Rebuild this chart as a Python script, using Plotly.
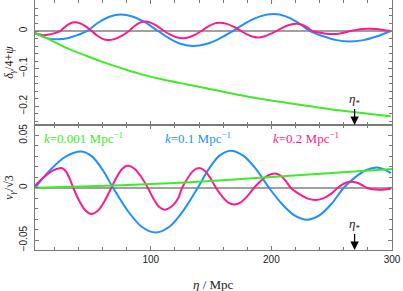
import plotly.graph_objects as go

# ---- data ----
# top panel: delta_gamma/4 + psi
top_eta_k001 = [4, 15, 30, 45, 58, 75, 91, 110, 130, 146, 170, 200, 230, 256, 280, 299]
top_val_k001 = [-0.005, -0.021, -0.045, -0.064, -0.080, -0.098, -0.114, -0.129, -0.142,
                -0.152, -0.168, -0.185, -0.199, -0.211, -0.220, -0.227]

top_eta_k01 = [4, 12, 17, 23, 31, 39, 47, 56.3, 65.7, 75, 85.3, 95.7, 106, 115.7, 125.3, 135,
               146, 157, 168, 179.3, 190.7, 202, 212, 222, 232, 243, 254, 265, 276.3, 287.7, 299]
top_val_k01 = [-0.006, -0.017, -0.021, -0.022, -0.019, -0.011, 0.000, 0.022, 0.038, 0.044,
               0.038, 0.022, 0.000, -0.020, -0.0346, -0.040, -0.0346, -0.020, 0.000, 0.0225,
               0.039, 0.045, 0.039, 0.0225, 0.000, -0.014, -0.0242, -0.028, -0.0242, -0.014,
               0.000]

top_eta_k02 = [4, 11, 15.7, 20.3, 25, 29, 33, 37, 41.7, 46.3, 51, 55.5, 60, 64.5, 70.3, 76.2,
               82, 86.3, 90.7, 95, 100.3, 105.7, 111, 116.2, 121.4, 126.6, 131.7, 136.9, 142,
               147, 152, 157, 163, 169, 175, 179.5, 184, 188.5, 193.7, 198.8, 204, 209.7,
               215.3, 221, 225.3, 229.7, 234, 239.7, 245.3, 251, 255.8, 260.7, 265.5, 270.5,
               275.5, 280.5, 286.7, 292.8, 299]
top_val_k02 = [-0.006, -0.011, -0.0095, -0.0055, 0.000, 0.0115, 0.020, 0.023, 0.020, 0.0115,
               0.000, -0.012, -0.0208, -0.024, -0.0208, -0.012, 0.000, 0.0125, 0.0217, 0.025,
               0.0217, 0.0125, 0.000, -0.0095, -0.0165, -0.019, -0.0165, -0.0095, 0.000,
               0.011, 0.019, 0.022, 0.019, 0.011, 0.000, -0.0085, -0.0147, -0.017, -0.0147,
               -0.0085, 0.000, 0.0095, 0.0165, 0.019, 0.0165, 0.0095, 0.000, -0.004, -0.007,
               -0.008, -0.007, -0.004, 0.000, 0.003, 0.0052, 0.006, 0.0052, 0.003, 0.000]

# bottom panel: v_gamma / sqrt(3)
bot_eta_k001 = [4, 50, 100, 150, 200, 250, 300]
bot_val_k001 = [0.000, 0.0015, 0.0035, 0.0065, 0.0102, 0.0140, 0.0180]

bot_eta_k01 = [4, 16.8, 29.7, 42.5, 51.2, 60, 68.7, 80.5, 92.2, 104, 115.7, 127.3, 139, 148,
               157, 166, 176.7, 187.3, 198, 208.6, 219.1, 229.7, 239.8, 249.9, 260, 269.1,
               278.3, 287.4, 293, 299]
bot_val_k01 = [0.000, 0.0173, 0.030, 0.0346, 0.030, 0.0173, 0.000, -0.0214, -0.037, -0.0428,
               -0.037, -0.0214, 0.000, 0.0178, 0.0307, 0.0355, 0.0307, 0.0178, 0.000, -0.0153,
               -0.0264, -0.0305, -0.0264, -0.0153, 0.000, 0.0097, 0.0167, 0.0193, 0.0178,
               0.014]

bot_eta_k02 = [4, 11.3, 18.7, 26, 29.2, 32.5, 35.7, 40.7, 45.8, 50.8, 56.3, 61.8, 67.3, 71.9,
               76.4, 81, 86.5, 92, 97.5, 102.2, 106.8, 111.5, 117, 122.5, 126, 130.7, 135.3,
               140, 144.7, 149.3, 154, 159, 164, 169, 174.6, 180.1, 185.7, 191.5, 197.2, 203,
               207.3, 211.7, 216, 222.9, 229.7, 236.6, 243, 249.4, 255, 258.7, 262.3, 266,
               270.3, 274.7, 279, 284, 289, 294, 299]
bot_val_k02 = [0.002, 0.010, 0.0163, 0.0188, 0.0163, 0.0094, 0.000, -0.0125, -0.0217, -0.025,
               -0.0217, -0.0125, 0.000, 0.0105, 0.0182, 0.021, 0.0182, 0.0105, 0.000, -0.0105,
               -0.0182, -0.021, -0.0182, -0.0105, 0.000, 0.0094, 0.0163, 0.0188, 0.0163,
               0.0094, 0.000, -0.008, -0.0139, -0.016, -0.0139, -0.008, 0.000, 0.0069, 0.0119,
               0.0137, 0.0119, 0.0069, 0.000, -0.0059, -0.0101, -0.0117, -0.0101, -0.0059,
               0.000, 0.0029, 0.005, 0.0058, 0.005, 0.0029, 0.000, -0.0015, -0.002, -0.0017,
               -0.001]

labels = ["<i>k</i>=0.001 Mpc<sup>−1</sup>", "<i>k</i>=0.1 Mpc<sup>−1</sup>",
          "<i>k</i>=0.2 Mpc<sup>−1</sup>"]
label_x = [10, 110, 200]
eta_star = 269

GREEN, BLUE, PINK = "#3cec28", "#1e90ff", "#ff1a8c"
FRAME = "#7a7a7a"
SERIF = "Liberation Serif, DejaVu Serif, serif"
SANS = "Liberation Sans, Arial, sans-serif"

fig = go.Figure()
for xs, ys, c, ya in [
    (top_eta_k01, top_val_k01, BLUE, "y"),
    (top_eta_k02, top_val_k02, PINK, "y"),
    (top_eta_k001, top_val_k001, GREEN, "y"),
    (bot_eta_k01, bot_val_k01, BLUE, "y2"),
    (bot_eta_k02, bot_val_k02, PINK, "y2"),
    (bot_eta_k001, bot_val_k001, GREEN, "y2"),
]:
    fig.add_trace(go.Scatter(x=xs, y=ys, mode="lines", yaxis=ya,
                             xaxis="x2" if ya == "y" else "x",
                             line=dict(color=c, width=2, shape="spline", smoothing=0.9),
                             showlegend=False, hoverinfo="skip"))

axis_common = dict(showline=True, linecolor=FRAME, linewidth=1, mirror="allticks",
                   ticks="inside", tickcolor=FRAME, showgrid=False, automargin=False,
                   tickfont=dict(family=SANS, size=10, color="#222"))

fig.update_layout(
    width=403, height=291,
    margin=dict(l=35, r=11, t=0, b=41, pad=0),
    plot_bgcolor="white", paper_bgcolor="white",
    xaxis=dict(domain=[0, 1], anchor="y2", range=[4, 300], dtick=100, tick0=0, ticklen=4,
               minor=dict(dtick=20, ticklen=3, ticks="inside", tickcolor=FRAME),
               zeroline=False, **axis_common),
    xaxis2=dict(domain=[0, 1], anchor="y", matches="x", range=[4, 300], dtick=100, tick0=0,
                ticklen=4, showticklabels=False,
                minor=dict(dtick=20, ticklen=3, ticks="inside", tickcolor=FRAME),
                zeroline=False, **axis_common),
    yaxis=dict(domain=[0.5, 1], anchor="x2", range=[-0.25, 0.0825], dtick=0.1, tick0=0,
               ticklen=4, tickangle=-90, ticklabelstandoff=3,
               minor=dict(dtick=0.02, ticklen=3, ticks="inside", tickcolor=FRAME),
               zeroline=True, zerolinecolor="#a0a0a0", zerolinewidth=1.5, **axis_common),
    yaxis2=dict(domain=[0, 0.5], anchor="x", range=[-0.0595, 0.06], dtick=0.05, tick0=0,
                ticklen=4, tickangle=-90, ticklabelstandoff=3,
                minor=dict(dtick=0.01, ticklen=3, ticks="inside", tickcolor=FRAME),
                zeroline=True, zerolinecolor="#a0a0a0", zerolinewidth=1.5, **axis_common),
)

ann = []
# axis titles
ann.append(dict(text="<i>δ</i><sub><i>γ</i></sub>/4+<i>ψ</i>", xref="paper", yref="paper",
                x=-0.072, y=0.75, xanchor="center", yanchor="middle", textangle=-90,
                showarrow=False, font=dict(family=SERIF, size=12, color="#222")))
ann.append(dict(text="<i>v</i><sub><i>γ</i></sub>/√3", xref="paper", yref="paper",
                x=-0.072, y=0.25, xanchor="center", yanchor="middle", textangle=-90,
                showarrow=False, font=dict(family=SERIF, size=12, color="#222")))
ann.append(dict(text="<i>η</i> / Mpc", xref="paper", yref="paper", x=0.5, y=-0.138,
                xanchor="center", yanchor="middle", showarrow=False,
                font=dict(family=SERIF, size=13, color="#222")))
# series labels
for txt, c, xp in zip(labels, [GREEN, BLUE, PINK], label_x):
    ann.append(dict(text=txt, xref="x", yref="y2", x=xp, y=0.048, xanchor="left",
                    yanchor="middle", showarrow=False,
                    font=dict(family=SERIF, size=13, color=c)))
# eta_star arrows
for yref, yv in [("y", -0.25), ("y2", -0.0595)]:
    ann.append(dict(text="<i>η</i><sub>*</sub>", xref="x", yref=yref, x=eta_star, y=yv,
                    ax=0, ay=-26, showarrow=True, arrowhead=2, arrowsize=1.4,
                    arrowwidth=1.2, arrowcolor="black",
                    font=dict(family=SERIF, size=13, color="#222")))
fig.update_layout(annotations=ann)

fig.write_html("out.html", config={"displayModeBar": False},
               post_script="document.body.style.margin='0';document.body.style.overflow='hidden';")
